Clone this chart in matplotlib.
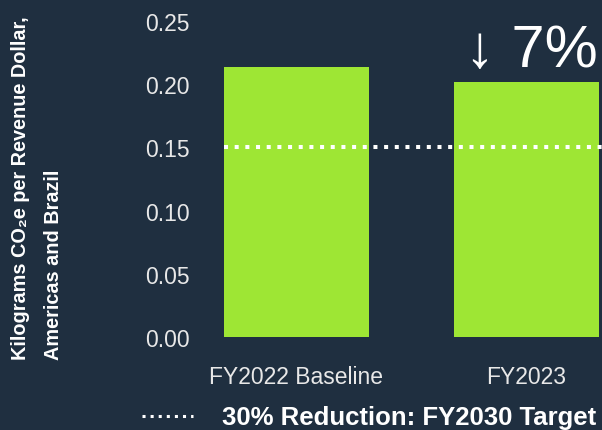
import matplotlib
matplotlib.use("Agg")
import matplotlib.pyplot as plt
from matplotlib.legend_handler import HandlerLine2D

categories = ["FY2022 Baseline", "FY2023"]
values = [0.214, 0.2015]
target_value = 0.150
target_label = "30% Reduction: FY2030 Target"
change_label = "\u2193 7%"
y_ticks = [0.00, 0.05, 0.10, 0.15, 0.20, 0.25]
y_label = "Kilograms CO\u2082e per Revenue Dollar,\nAmericas and Brazil"

BG = "#1f2f40"
BAR = "#9ee634"
TXT = "#e8e8e8"
FAM = ["Liberation Sans", "DejaVu Sans"]
plt.rcParams["font.family"] = FAM

W, H = 602, 431
fig = plt.figure(figsize=(W / 100, H / 100), dpi=100, facecolor=BG)
left_px, right_px = 224, 602
bottom_px, top_px = 338, 22
ax = fig.add_axes([left_px / W, 1 - bottom_px / H, (right_px - left_px) / W, (bottom_px - top_px) / H])
ax.set_facecolor(BG)

x = list(range(len(categories)))
bw = 0.63
ax.bar(x, values, width=bw, color=BAR, zorder=2)
xmin = -bw / 2
xmax = xmin + (right_px - left_px) / 230
ax.set_xlim(xmin, xmax)
ax.set_ylim(0, 0.25)
line = ax.axhline(target_value, color="white", linestyle=":", linewidth=2.9, zorder=3, label=target_label)

ax.set_xticks(x)
ax.set_xticklabels(categories)
ax.set_yticks(y_ticks)
ax.set_yticklabels([f"{v:.2f}" for v in y_ticks])
ax.tick_params(axis="y", length=0, pad=24.5, labelsize=16.5, labelcolor=TXT)
ax.tick_params(axis="x", length=0, pad=20, labelsize=16.5, labelcolor=TXT)
for s in ax.spines.values():
    s.set_visible(False)

ax.annotate(change_label, xy=(x[1], values[1]), xytext=(3.5, 3), textcoords="offset points",
            ha="center", va="bottom", fontsize=43, color="white")

fig.text(37 / W, 1 - 360 / H, y_label, rotation=90, ha="center", va="bottom",
         multialignment="left", fontsize=14.3, fontweight="bold", color="white", linespacing=1.9)


def _upd(handle, orig):
    handle.update_from(orig)
    handle.set_linewidth(2.2)


leg = fig.legend(handles=[line], loc="center left", bbox_to_anchor=(142 / W, 1 - 418.5 / H),
                 frameon=False, handlelength=2.0, handletextpad=1.1, borderaxespad=0,
                 borderpad=0,
                 handler_map={line: HandlerLine2D(update_func=_upd)},
                 prop={"family": FAM, "weight": "bold", "size": 18.5})
for t in leg.get_texts():
    t.set_color("white")

fig.savefig("out.png", dpi=100, facecolor=BG)
